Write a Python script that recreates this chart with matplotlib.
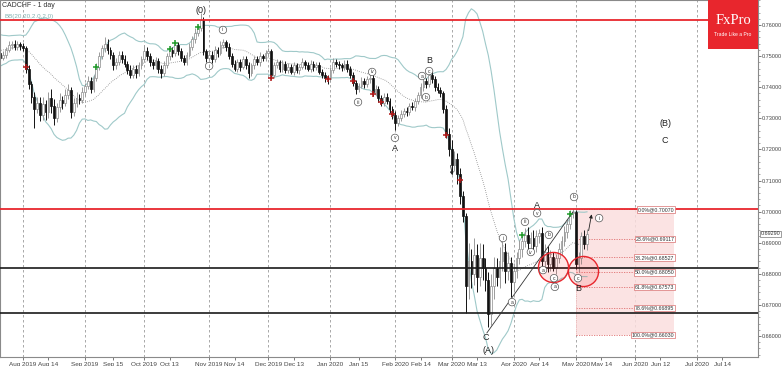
import numpy as np
import pandas as pd
import matplotlib
matplotlib.use("Agg")
import matplotlib.pyplot as plt
from matplotlib.patches import Rectangle
import matplotlib.transforms as mtransforms
from matplotlib.ticker import MultipleLocator, FormatStrFormatter

plt.rcParams['font.family'] = ['Liberation Sans', 'DejaVu Sans']

# ---------------- data (daily closes in pips, 1e-4) ----------------
start_date = '2019-06-24'
close_pips = [
    # warm-up (Jun 24 - Jul 19 2019)
    7460, 7475, 7490, 7480, 7500, 7515, 7530, 7520, 7545, 7560, 7550, 7540, 7555, 7548, 7535, 7520, 7505, 7495, 7500, 7510,
    7495, 7505, 7520, 7535, 7540, 7530, 7538, 7532, 7525,      # 20-28
    7460,                                                      # 29
    7410, 7370, 7330, 7350,                                    # 30-33
    7310, 7345, 7320, 7365, 7340, 7300,                        # 34-39
    7335, 7360, 7350, 7375, 7390, 7320, 7350, 7365,            # 40-47
    7360, 7385, 7405,                                          # 48-50
    7420, 7395, 7430, 7465, 7500,                              # 51-55
    7525, 7540, 7520, 7505,                                    # 56-59
    7470, 7480,                                                # 60-61
    7505, 7490, 7475,                                          # 62-64
    7455, 7440, 7460, 7445,                                    # 65-68
    7470, 7490, 7515, 7500, 7480,                              # 69-73
    7470, 7485, 7460, 7445, 7470,                              # 74-78
    7500, 7520, 7510, 7535,                                    # 79-82
    7515, 7495, 7480,                                          # 83-85
    7505, 7530, 7555, 7575, 7590, 7615,                        # 86-91
    7515, 7495,                                                # 92-93
    7505, 7490, 7520, 7510, 7535, 7545,                        # 94-99
    7530, 7500, 7475, 7460,                                    # 100-103
    7480, 7465, 7490, 7470,                                    # 104-107
    7445,                                                      # 108
    7470, 7490, 7480, 7500, 7495, 7510, 7515,                  # 109-115
    7440,                                                      # 116
    7470, 7480, 7460, 7475, 7455, 7465,                        # 117-122
    7450, 7470, 7455, 7465, 7480, 7470, 7460, 7475, 7465, 7470, 7450, 7440,  # 123-134
    7430, 7425,                                                # 135-136
    7455, 7480, 7475,                                          # 137-139
    7470, 7465, 7475, 7460,                                    # 140-143
    7440, 7415, 7395,                                          # 144-146
    7405, 7420, 7410, 7425, 7430,                              # 147-151
    7385, 7395, 7365, 7350, 7370, 7355, 7330,                  # 152-158
    7310,                                                      # 159
    7285,                                                      # 160
    7300, 7315, 7325, 7320, 7340, 7335, 7355,                  # 161-167
    7375, 7400, 7420, 7410, 7440,                              # 168-172
    7425, 7400, 7390, 7380, 7330, 7250,                        # 173-178
    7200, 7150, 7170, 7120, 7050,                              # 179-183
    6985,                                                      # 184
    6760,                                                      # 185
    6840, 6800, 6860, 6790, 6850, 6820, 6780,                  # 186-192
    6670,                                                      # 193
    6760, 6820, 6790, 6840, 6870, 6810, 6835,                  # 194-200
    6775,                                                      # 201
    6810, 6850, 6880, 6905,                                    # 202-205
    6925, 6900, 6915, 6890, 6920,                              # 206-210
    6930,                                                      # 211
    6840, 6870, 6830, 6855, 6820,                              # 212-216
    6850, 6880, 6905, 6935, 6960, 6995,                        # 217-222
    7000, 6830, 6850, 6920, 6895, 6929,                        # 223-228
]
upper_wick_pips = [
    12, 10, 8, 14, 10, 9, 12, 15, 10, 13, 8, 11, 9, 12, 10, 8, 14, 10, 9, 11,
    10, 12, 8, 14, 9, 12, 10, 8, 11,
    8,
    12, 10, 15, 20,
    18, 25, 15, 20, 30, 22,
    15, 20, 12, 18, 20, 10, 15, 18,
    12, 15, 10,
    15, 12, 10, 14, 12,
    12, 20, 15, 10,
    8, 14,
    12, 10, 14,
    10, 15, 12, 10,
    12, 10, 21, 14, 10,
    10, 12, 9, 11, 14,
    10, 12, 8, 13,
    10, 12, 9,
    8, 12, 10, 14, 11, 24,
    10, 8,
    12, 10, 14, 9, 12, 10,
    8, 12, 10, 14,
    10, 12, 9, 11,
    10,
    9, 11, 10, 12, 8, 10, 11,
    8,
    12, 10, 9, 11, 10, 12,
    10, 12, 9, 11, 13, 8, 10, 12, 9, 11, 10, 8,
    10, 8,
    10, 15, 12,
    10, 9, 12, 11,
    9, 10, 8,
    10, 12, 9, 11, 15,
    10, 12, 9, 11, 10, 12, 9,
    9,
    12,
    10, 12, 9, 11, 10, 12, 10,
    10, 12, 11, 10, 18,
    12, 10, 14, 11, 9, 12,
    20, 30, 25, 18, 20,
    15,
    10,
    60, 40, 55, 35, 50, 45, 30,
    25,
    40, 35, 30, 45, 45, 30, 35,
    20,
    25, 20, 30, 20,
    23, 25, 20, 25, 20,
    15,
    20, 25, 20, 20, 15,
    15, 20, 15, 20, 15, 10,
    7, 5, 20, 15, 20, 16,
]
lower_wick_pips = [
    10, 12, 9, 8, 11, 13, 9, 10, 12, 8, 14, 9, 11, 10, 12, 9, 8, 13, 10, 11,
    12, 9, 10, 8, 13, 10, 9, 12, 10,
    15,
    15, 20, 61, 14,
    20, 15, 25, 18, 22, 20,
    12, 15, 20, 10, 14, 18, 12, 15,
    15, 10, 12,
    10, 14, 12, 9, 10,
    10, 12, 14, 15,
    15, 10,
    10, 12, 9,
    12, 10, 9, 14,
    10, 12, 9, 11, 13,
    12, 10, 13, 15, 9,
    9, 11, 12, 10,
    11, 10, 8,
    10, 9, 11, 12, 10, 8,
    12, 15,
    9, 11, 10, 12, 8, 10,
    12, 10, 11, 9,
    10, 12, 8, 10,
    15,
    10, 12, 9, 11, 10, 12, 9,
    14,
    10, 9, 11, 12, 10, 8,
    9, 11, 10, 12, 8, 10, 9, 11, 12, 10, 9, 12,
    12, 15,
    9, 10, 11,
    10, 12, 9, 10,
    12, 10, 17,
    10, 9, 12, 10, 11,
    12, 10, 11, 12, 9, 10, 12,
    12,
    23,
    11, 9, 10, 12, 10, 9, 11,
    9, 10, 12, 14, 10,
    10, 12, 9, 11, 14, 12,
    20, 25, 20, 30, 25,
    20,
    86,
    40, 45, 35, 50, 30, 40, 35,
    41,
    35, 40, 30, 35, 30, 40, 30,
    50,
    30, 25, 20, 25,
    20, 25, 20, 25, 20,
    20,
    25, 20, 25, 20, 10,
    20, 15, 20, 15, 20, 15,
    15, 15, 25, 20, 15, 20,
]

# horizontal levels
red_levels = [0.7616, 0.7007]
black_levels = [0.6820, 0.6675]
last_price = 0.69290

# Fibonacci retracement
fib_pct = [0.0, 23.6, 38.2, 50.0, 61.8, 78.6, 100.0]
fib_price = [0.70070, 0.69117, 0.68527, 0.68050, 0.67573, 0.66895, 0.66030]
fib_start_date = '2020-05-01'
fib_end_date = '2020-06-19'

# x-axis tick labels
tick_dates = ['2019-08-01', '2019-08-14', '2019-09-02', '2019-09-15', '2019-10-01', '2019-10-13',
              '2019-11-01', '2019-11-14', '2019-12-02', '2019-12-13', '2020-01-01', '2020-01-15',
              '2020-02-03', '2020-02-14', '2020-03-02', '2020-03-13', '2020-04-01', '2020-04-14',
              '2020-05-01', '2020-05-14', '2020-06-01', '2020-06-12', '2020-07-01', '2020-07-14']
tick_labels = ['Aug 2019', 'Aug 14', 'Sep 2019', 'Sep 15', 'Oct 2019', 'Oct 13',
               'Nov 2019', 'Nov 14', 'Dec 2019', 'Dec 13', 'Jan 2020', 'Jan 15',
               'Feb 2020', 'Feb 14', 'Mar 2020', 'Mar 13', 'Apr 2020', 'Apr 14',
               'May 2020', 'May 14', 'Jun 2020', 'Jun 12', 'Jul 2020', 'Jul 14']
month_dates = [d for d, l in zip(tick_dates, tick_labels) if l[-4:].isdigit()]

# indicator markers (bar index, price)
green_idx = [54, 80, 82, 90, 205, 222]
green_px = [0.7465, 0.7523, 0.7542, 0.7594, 0.6925, 0.6992]
red_idx = [29, 116, 136, 145, 152, 155, 159, 178, 183]
red_px = [0.7465, 0.7430, 0.7426, 0.7420, 0.7378, 0.7352, 0.7314, 0.7246, 0.7102]

# wave labels: (bar position, price, text, circled)
wave_x = [91.1, 94.0, 98.9, 146.8, 151.8, 159.9, 159.9, 169.5, 172.0, 172.0, 170.9,
          192.2, 192.9, 198.2, 201.4, 206.0, 208.1, 210.3, 210.3, 212.4, 214.5, 216.3, 216.6,
          223.4, 224.8, 224.8, 232.3, 255.7, 255.7]
wave_y = [0.7648, 0.7468, 0.7584, 0.7352, 0.7449, 0.7237, 0.7204, 0.7436, 0.7452, 0.7487, 0.7368,
          0.6594, 0.6555, 0.6915, 0.6709, 0.6967, 0.6870, 0.6995, 0.7021, 0.6812, 0.6925, 0.6786, 0.6758,
          0.7047, 0.6786, 0.6754, 0.6979, 0.7282, 0.7230]
wave_t = ['(0)', 'i', 'ii', 'iii', 'iv', 'v', 'A', 'a', 'c', 'B', 'b',
          'C', '(A)', 'i', 'a', 'iii', 'iv', 'v', 'A', 'a', 'b', 'c', 'a',
          'b', 'c', 'B', 'i', '(B)', 'C']
wave_circ = [False, True, True, True, True, True, False, True, True, False, True,
             False, False, True, True, True, True, True, False, True, True, True, True,
             True, True, False, True, False, False]

# red highlight circles (bar position, price)
circ_x = [215.9, 226.6]
circ_y = [0.6822, 0.6809]

# trend line C -> b
trend_x = [192.5, 223.0]
trend_y = [0.6610, 0.6999]

# ---------------- derived ----------------
close = np.array(close_pips) / 1e4
upw = np.array(upper_wick_pips) / 1e4
dnw = np.array(lower_wick_pips) / 1e4
opn = np.r_[close[0], close[:-1]]
high = np.maximum(opn, close) + upw
low = np.minimum(opn, close) - dnw
n = len(close)
xs = np.arange(n)
dates = pd.bdate_range(start_date, periods=340)

def pos(d):
    return float(dates.searchsorted(pd.Timestamp(d)))

s = pd.Series(close)
mid = s.rolling(20, min_periods=1).mean()
sd = s.rolling(20, min_periods=1).std(ddof=0)
bb_up = mid + 2 * sd
bb_dn = mid - 2 * sd

# ---------------- figure ----------------
W, H = 782, 366
fig = plt.figure(figsize=(W / 100, H / 100), dpi=100)
ax = fig.add_axes([0.0, 9 / H, 758 / W, 357 / H])
px_per_bar = 2.82
x_left = pos('2019-08-01') - 23 / px_per_bar
x_right = x_left + 758 / px_per_bar
ax.set_xlim(x_left, x_right)
ax.set_ylim(0.65325, 0.76804)

# month grid
for d in month_dates:
    ax.axvline(pos(d), color='#9a9a9a', lw=0.6, ls=(0, (3, 3)), zorder=0)

# fib box
fx0, fx1 = pos(fib_start_date), pos(fib_end_date)
ax.add_patch(Rectangle((fx0, fib_price[-1]), fx1 - fx0, fib_price[0] - fib_price[-1],
                       facecolor='#fbdede', edgecolor='none', alpha=0.85, zorder=0.5))
ax.plot([fx0, fx0], [fib_price[-1], fib_price[0]], color='#e6a0a0', lw=0.5, ls=':', zorder=0.6)
for p_, v in zip(fib_pct, fib_price):
    ax.plot([fx0, fx1], [v, v], color='#e07070', lw=0.6, ls=(0, (1.5, 1.5)), zorder=0.6)
    ax.text(fx1, v, f'{p_:.1f}%@{v:.5f}', fontsize=3.8, ha='right', va='center', color='#333333',
            bbox=dict(boxstyle='square,pad=0.15', fc='white', ec='#d97070', lw=0.5), zorder=6)

# Bollinger bands
ax.plot(xs, bb_up, color='#9fc9c9', lw=0.8, zorder=1)
ax.plot(xs, bb_dn, color='#9fc9c9', lw=0.8, zorder=1)
ax.plot(xs, mid, color='#8a8a8a', lw=0.6, ls=(0, (1, 1.5)), zorder=1)

# candles
bull = close >= opn
wick_col = np.where(bull, '#9a9a9a', '#111111')
ax.vlines(xs, low, high, colors=wick_col, lw=0.7, zorder=2)
body_h = np.maximum(np.abs(close - opn), 0.00006)
body_b = np.minimum(opn, close)
ax.bar(xs[bull], body_h[bull], bottom=body_b[bull], width=0.62, color='white',
       edgecolor='#8c8c8c', linewidth=0.5, zorder=2.5)
ax.bar(xs[~bull], body_h[~bull], bottom=body_b[~bull], width=0.62, color='#111111',
       edgecolor='#111111', linewidth=0.5, zorder=2.5)

# markers
ax.scatter(green_idx, green_px, marker='+', s=14, color='#1f9a2a', linewidths=1.1, zorder=4)
ax.scatter(red_idx, red_px, marker='+', s=14, color='#b01818', linewidths=1.1, zorder=4)

# horizontal levels
for v in red_levels:
    ax.axhline(v, color='#e8262d', lw=1.3, zorder=3)
for v in black_levels:
    ax.axhline(v, color='#1a1a1a', lw=1.2, zorder=3)

# trend line
ax.plot(trend_x, trend_y, color='#333333', lw=0.6, zorder=3)

# highlight circles
ax.scatter(circ_x, circ_y, s=470, facecolor=(1, 0, 0, 0.10), edgecolor='#e8262d', linewidths=1.0, zorder=4)

# arrows
ax.annotate('', xy=(229.8, 0.7000), xytext=(228.4, 0.6930),
            arrowprops=dict(arrowstyle='-|>', color='#222222', lw=0.6, mutation_scale=5), zorder=5)
ax.annotate('', xy=(180.5, 0.7108), xytext=(179.4, 0.7157),
            arrowprops=dict(arrowstyle='-|>', color='#222222', lw=0.6, mutation_scale=5), zorder=5)

# wave labels
for x_, y_, t_, c_ in zip(wave_x, wave_y, wave_t, wave_circ):
    if c_:
        ax.text(x_, y_, t_, fontsize=3.6, ha='center', va='center', color='#333333',
                bbox=dict(boxstyle='circle,pad=0.25', fc='white', ec='#555555', lw=0.5), zorder=6)
    else:
        ax.text(x_, y_, t_, fontsize=6.5, ha='center', va='center', color='#222222', zorder=6)

# axes styling
ax.yaxis.tick_right()
ax.yaxis.set_major_locator(MultipleLocator(0.01))
ax.yaxis.set_minor_locator(MultipleLocator(0.002))
ax.yaxis.set_major_formatter(FormatStrFormatter('%.5f'))
ax.tick_params(axis='y', which='major', labelsize=4.0, length=2, width=0.5, pad=1.0, colors='#444444')
ax.tick_params(axis='y', which='minor', length=1.2, width=0.4, colors='#666666')
ax.set_xticks([pos(d) for d in tick_dates])
ax.set_xticklabels(tick_labels)
ax.tick_params(axis='x', labelsize=4.6, length=2.5, width=0.5, pad=0.8, colors='#444444')
for sp in ax.spines.values():
    sp.set_color('#8a8a8a')
    sp.set_linewidth(0.8)

# last price tag
tr = mtransforms.blended_transform_factory(ax.transAxes, ax.transData)
ax.text(1.003, last_price, f'{last_price:.5f}', transform=tr, fontsize=3.9, ha='left', va='center',
        color='#333333', bbox=dict(boxstyle='square,pad=0.12', fc='white', ec='#777777', lw=0.5),
        clip_on=False, zorder=7)

# titles
ax.text(0.003, 0.993, 'CADCHF - 1 day', transform=ax.transAxes, fontsize=5, ha='left', va='top',
        color='#333333')
ax.text(0.006, 0.962, 'BB(20,20,2.0,2.0)', transform=ax.transAxes, fontsize=4.5, ha='left', va='top',
        color='#7fb0b0')

# FxPro logo
fig.patches.append(Rectangle((708 / W, 1 - 49 / H), 50 / W, 49 / H, transform=fig.transFigure,
                             facecolor='#e8262d', edgecolor='none', zorder=10))
fig.text(733 / W, 1 - 21 / H, 'FxPro', fontsize=10.5, color='white', ha='center', va='center',
         family=['Liberation Serif', 'DejaVu Serif'], zorder=11)
fig.text(733 / W, 1 - 34 / H, 'Trade Like a Pro', fontsize=3.6, color='white', ha='center', va='center',
         zorder=11)

fig.savefig('out.png', dpi=100)
